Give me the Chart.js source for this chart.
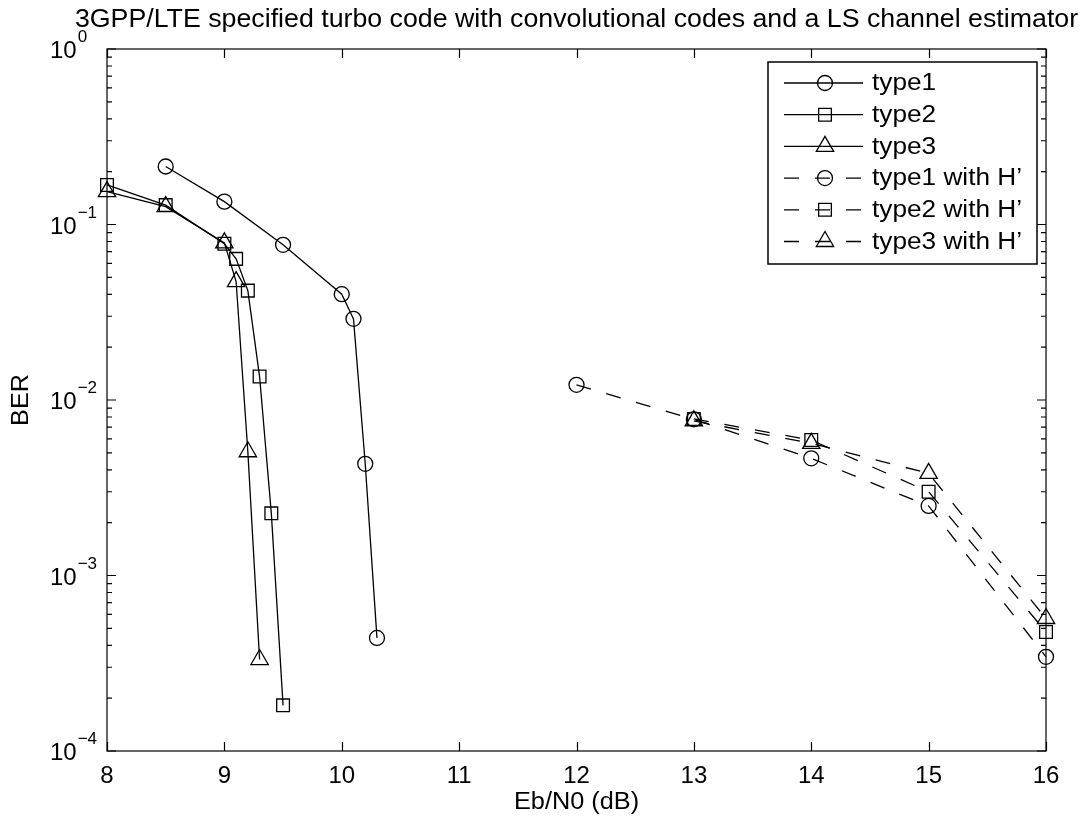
<!DOCTYPE html>
<html>
<head>
<meta charset="utf-8">
<script src="https://cdn.jsdelivr.net/npm/chart.js@4.4.0/dist/chart.umd.min.js"></script>
<style>
  html, body { margin: 0; padding: 0; background: #fff; }
</style>
</head>
<body>
<canvas id="ber" width="1085" height="824"></canvas>
<script>
// values (Eb/N0 in dB, BER)
const type1X = [8.5, 9, 9.5, 10, 10.1, 10.2, 10.3];
const type1Ber = [0.214, 0.135, 0.0766, 0.0401, 0.029, 0.00433, 0.000441];
const type2X = [8, 8.5, 9, 9.1, 9.2, 9.3, 9.4, 9.5];
const type2Ber = [0.168, 0.129, 0.0776, 0.0637, 0.042, 0.0136, 0.00226, 0.000182];
const type3X = [8, 8.5, 9, 9.1, 9.2, 9.3];
const type3Ber = [0.154, 0.1265, 0.0786, 0.0473, 0.00507, 0.000332];

const type1HX = [12, 13, 14, 15, 16];
const type1HBer = [0.0122, 0.00776, 0.00465, 0.00249, 0.000344];
const type2HX = [13, 14, 15, 16];
const type2HBer = [0.0078, 0.00591, 0.0030, 0.000477];
const type3HX = [13, 14, 15, 16];
const type3HBer = [0.0076, 0.00566, 0.00382, 0.000569];

const xTicks = [8, 9, 10, 11, 12, 13, 14, 15, 16];
const yExponents = [0, -1, -2, -3, -4];

const titleText = '3GPP/LTE specified turbo code with convolutional codes and a LS channel estimator';
const xTitle = 'Eb/N0 (dB)';
const yTitle = 'BER';

const FONT = '"Liberation Sans", Arial, Helvetica, sans-serif';
const DASH = [15, 16];

const markers = {
  circle: { style: 'circle', radius: 7.5 },
  rect: { style: 'rect', radius: 9 },
  triangle: { style: 'triangle', radius: 10 }
};

function toPoints(xs, ys) {
  return xs.map((x, i) => ({ x: x, y: ys[i] }));
}

function series(label, xs, ys, marker, dashed) {
  return {
    label: label,
    data: toPoints(xs, ys),
    showLine: true,
    borderColor: '#000',
    borderWidth: 1.3,
    borderDash: dashed ? DASH : [],
    backgroundColor: 'rgba(0,0,0,0)',
    pointStyle: markers[marker].style,
    pointRadius: markers[marker].radius,
    pointBorderWidth: 1.3,
    pointBorderColor: '#000',
    pointBackgroundColor: 'rgba(0,0,0,0)',
    tension: 0,
    clip: false,
    marker: marker,
    dashed: dashed
  };
}

// the reference font runs a bit wider than Liberation Sans
function wideText(ctx, text, x, y, sx) {
  ctx.save();
  ctx.translate(x, y);
  ctx.scale(sx, 1);
  ctx.fillText(text, 0, 0);
  ctx.restore();
}

// axes box, inward ticks, tick labels, titles and legend
const matlabAxes = {
  id: 'matlabAxes',
  afterDraw(chart) {
    const ctx = chart.ctx;
    const area = chart.chartArea;
    const xs = chart.scales.x;
    const ys = chart.scales.y;
    ctx.save();
    ctx.strokeStyle = '#000';
    ctx.fillStyle = '#000';
    ctx.lineWidth = 1.2;
    ctx.setLineDash([]);
    ctx.strokeRect(area.left, area.top, area.right - area.left, area.bottom - area.top);

    // x ticks
    ctx.beginPath();
    xTicks.forEach(v => {
      const px = Math.round(xs.getPixelForValue(v)) + 0.5;
      ctx.moveTo(px, area.bottom); ctx.lineTo(px, area.bottom - 9);
      ctx.moveTo(px, area.top); ctx.lineTo(px, area.top + 9);
    });
    // y ticks (decades and minor)
    yExponents.forEach(e => {
      const py = ys.getPixelForValue(Math.pow(10, e));
      ctx.moveTo(area.left, py); ctx.lineTo(area.left + 9, py);
      ctx.moveTo(area.right, py); ctx.lineTo(area.right - 9, py);
      if (e < 0) {
        for (let m = 2; m <= 9; m++) {
          const pm = ys.getPixelForValue(m * Math.pow(10, e));
          ctx.moveTo(area.left, pm); ctx.lineTo(area.left + 5, pm);
          ctx.moveTo(area.right, pm); ctx.lineTo(area.right - 5, pm);
        }
      }
    });
    ctx.stroke();

    // x tick labels
    ctx.font = '24px ' + FONT;
    ctx.textAlign = 'center';
    ctx.textBaseline = 'middle';
    xTicks.forEach(v => {
      ctx.fillText(String(v), xs.getPixelForValue(v), area.bottom + 25);
    });

    // y tick labels as 10 with superscript exponent
    yExponents.forEach(e => {
      const py = ys.getPixelForValue(Math.pow(10, e));
      ctx.font = '24px ' + FONT;
      ctx.textAlign = 'left';
      ctx.textBaseline = 'alphabetic';
      ctx.fillText('10', 50, py + 9);
      const w = ctx.measureText('10').width;
      ctx.font = '17px ' + FONT;
      ctx.fillText(e === 0 ? '0' : '\u2212' + String(-e), 50 + w + 1, py - 7);
    });

    // axis titles
    ctx.font = '23px ' + FONT;
    ctx.textAlign = 'center';
    ctx.textBaseline = 'middle';
    wideText(ctx, xTitle, (area.left + area.right) / 2, 803, 1.1);
    ctx.save();
    ctx.translate(21, (area.top + area.bottom) / 2);
    ctx.rotate(-Math.PI / 2);
    ctx.font = '24px ' + FONT;
    wideText(ctx, yTitle, 0, 0, 1.05);
    ctx.restore();

    // title
    ctx.font = '25px ' + FONT;
    wideText(ctx, titleText, (area.left + area.right) / 2, 20, 1.07);

    // legend
    const box = { left: 768, top: 62, right: 1037, bottom: 264 };
    ctx.fillStyle = '#fff';
    ctx.fillRect(box.left, box.top, box.right - box.left, box.bottom - box.top);
    ctx.lineWidth = 1.5;
    ctx.strokeRect(box.left, box.top, box.right - box.left, box.bottom - box.top);
    ctx.lineWidth = 1.3;
    ctx.font = '23px ' + FONT;
    ctx.textAlign = 'left';
    ctx.textBaseline = 'middle';
    chart.data.datasets.forEach((ds, i) => {
      const y = 83 + i * 31.7;
      ctx.strokeStyle = '#000';
      ctx.setLineDash(ds.dashed ? DASH : []);
      ctx.beginPath();
      ctx.moveTo(784, y); ctx.lineTo(863, y);
      ctx.stroke();
      ctx.setLineDash([]);
      ctx.fillStyle = 'rgba(0,0,0,0)';
      Chart.helpers.drawPoint(ctx, {
        pointStyle: markers[ds.marker].style,
        radius: markers[ds.marker].radius,
        rotation: 0,
        borderWidth: 1.3
      }, 825, y);
      ctx.fillStyle = '#000';
      wideText(ctx, ds.label, 872, y + 1, 1.14);
    });
    ctx.restore();
  }
};

new Chart(document.getElementById('ber'), {
  type: 'scatter',
  data: {
    datasets: [
      series('type1', type1X, type1Ber, 'circle', false),
      series('type2', type2X, type2Ber, 'rect', false),
      series('type3', type3X, type3Ber, 'triangle', false),
      series('type1 with H\u2019', type1HX, type1HBer, 'circle', true),
      series('type2 with H\u2019', type2HX, type2HBer, 'rect', true),
      series('type3 with H\u2019', type3HX, type3HBer, 'triangle', true)
    ]
  },
  options: {
    responsive: false,
    animation: false,
    devicePixelRatio: 1,
    layout: { padding: { left: 107, right: 39, top: 49, bottom: 73 } },
    scales: {
      x: { type: 'linear', min: 8, max: 16, display: false },
      y: { type: 'logarithmic', min: 1e-4, max: 1, display: false }
    },
    plugins: {
      legend: { display: false },
      title: { display: false },
      tooltip: { enabled: false }
    }
  },
  plugins: [matlabAxes]
});
</script>
</body>
</html>
